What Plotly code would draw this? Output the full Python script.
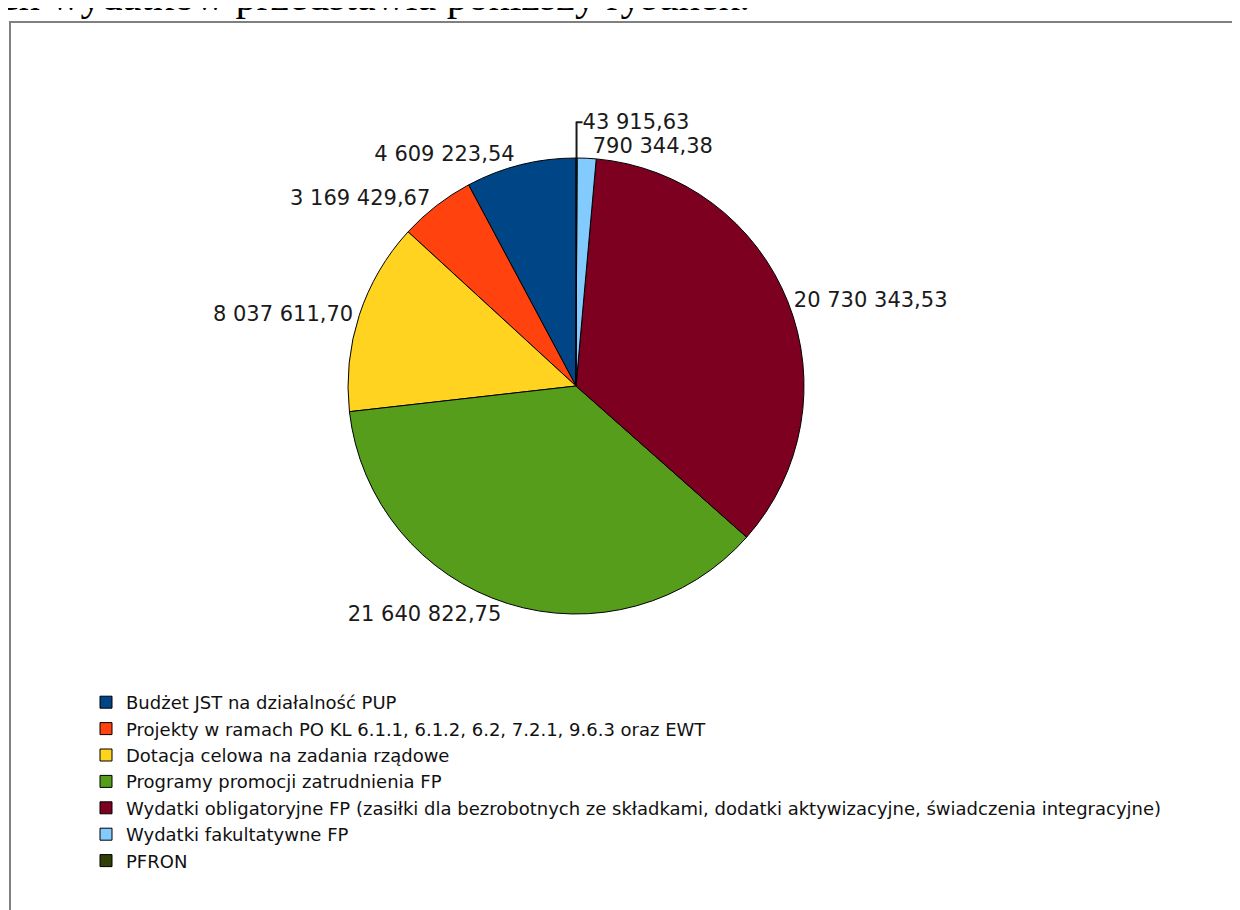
import plotly.graph_objects as go

categories = [
    "Budżet JST na działalność PUP",
    "Projekty w ramach PO KL 6.1.1, 6.1.2, 6.2, 7.2.1, 9.6.3 oraz EWT",
    "Dotacja celowa na zadania rządowe",
    "Programy promocji zatrudnienia FP",
    "Wydatki obligatoryjne FP (zasiłki dla bezrobotnych ze składkami, dodatki aktywizacyjne, świadczenia integracyjne)",
    "Wydatki fakultatywne FP",
    "PFRON",
]
values = [4609223.54, 3169429.67, 8037611.70, 21640822.75, 20730343.53, 790344.38, 43915.63]
colors = ["#004586", "#ff420e", "#ffd320", "#579d1c", "#7e0021", "#83caff", "#314004"]

header_text = "ch wydatków przedstawia poniższy rysunek."

W, H = 1240, 910
OFF = 8  # default page body margin around the plot


def px_x(x):
    return (x - OFF) / W


def px_y(y):
    return 1 - (y - OFF) / H


cx, cy, r = 576, 386, 228

# plotly's counterclockwise pies end the first slice at 12 o'clock; rotate so it starts there
first_angle = 360.0 * values[0] / sum(values)

fig = go.Figure(go.Pie(
    labels=categories,
    values=values,
    sort=False,
    direction="counterclockwise",
    rotation=-first_angle,
    marker=dict(colors=colors, line=dict(color="#000000", width=1)),
    textposition="outside",
    texttemplate="%{value:,.2f}",
    textfont=dict(family="DejaVu Sans", size=21, color="#1a1a1a"),
    outsidetextfont=dict(family="DejaVu Sans", size=21, color="#1a1a1a"),
    hoverinfo="label+value",
    domain=dict(x=[px_x(cx - r), px_x(cx + r)], y=[px_y(cy + r), px_y(cy - r)]),
    showlegend=True,
))

fig.update_layout(
    width=W, height=H,
    margin=dict(l=0, r=0, t=0, b=0, autoexpand=False),
    paper_bgcolor="white",
    plot_bgcolor="white",
    separators=", ",
    legend=dict(
        x=px_x(86), xanchor="left",
        y=px_y(684), yanchor="top",
        font=dict(family="DejaVu Sans", size=18, color="#111111"),
        bgcolor="rgba(0,0,0,0)",
        traceorder="normal",
    ),
    shapes=[dict(
        type="rect", xref="paper", yref="paper",
        x0=px_x(10), x1=1.02, y0=-0.02, y1=px_y(22),
        line=dict(color="#808080", width=2), fillcolor="rgba(0,0,0,0)", layer="below",
    )],
    annotations=[dict(
        text=header_text, xref="paper", yref="paper",
        x=px_x(-2), xanchor="left", y=px_y(21), yanchor="bottom",
        showarrow=False,
        font=dict(family="Liberation Serif", size=42, color="#000000"),
    )],
)

fig.write_html("out.html")
